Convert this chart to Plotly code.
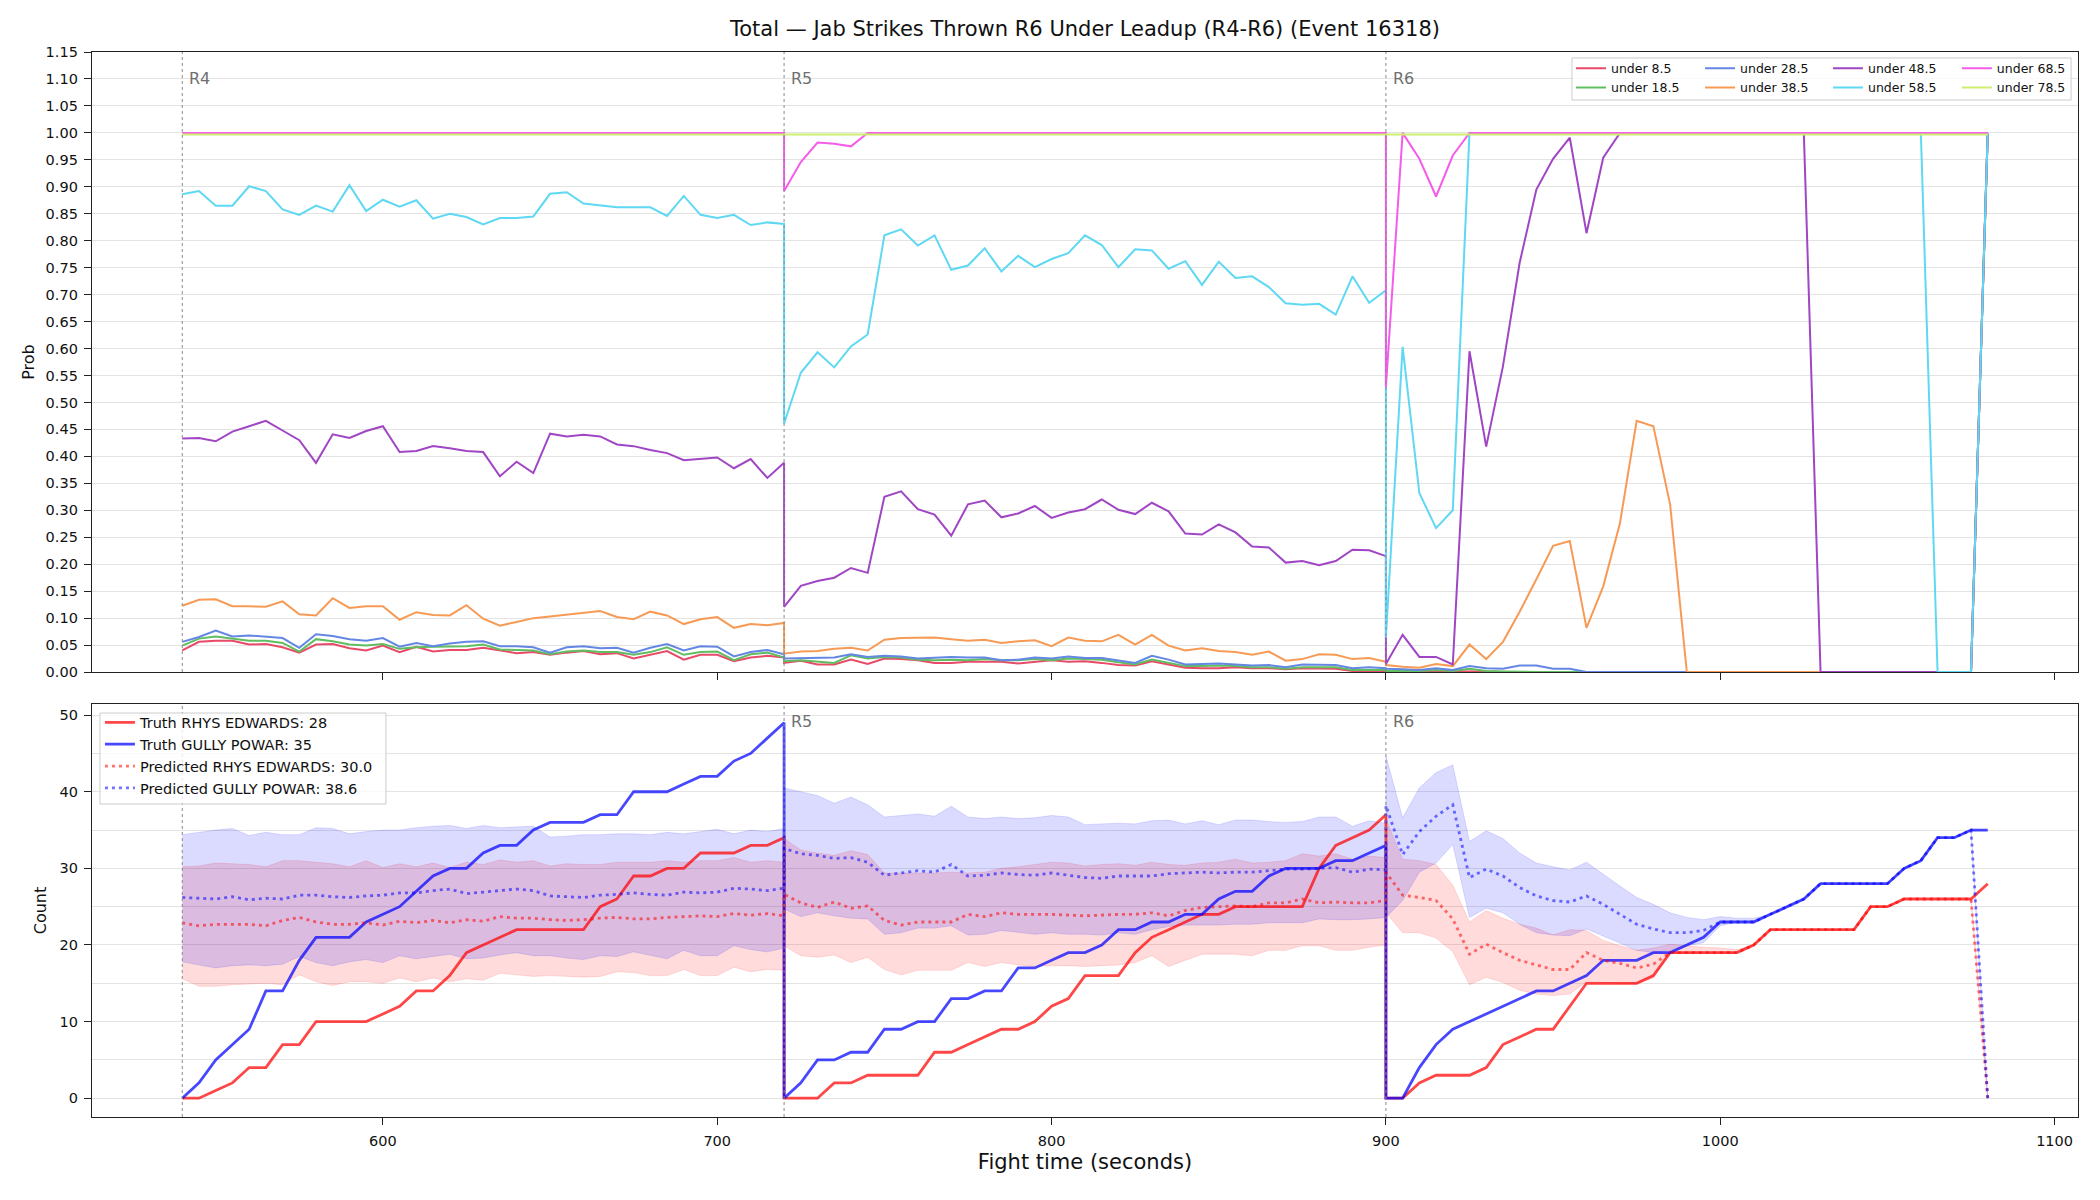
import plotly.graph_objects as go

FONT = "DejaVu Sans"

# ---------------- time grid (one sample every 5 s in each round) ----------------
T_R4 = list(range(540, 721, 5))
T_R5 = list(range(720, 901, 5))
T_R6 = list(range(900, 1081, 5))
ROUND_STARTS = [540, 720, 900]
ROUND_LABELS = ["R4", "R5", "R6"]
X_TICKS = [600, 700, 800, 900, 1000, 1100]
PROB_TICKS = [0.00, 0.05, 0.10, 0.15, 0.20, 0.25, 0.30, 0.35, 0.40, 0.45, 0.50, 0.55,
              0.60, 0.65, 0.70, 0.75, 0.80, 0.85, 0.90, 0.95, 1.00, 1.05, 1.10, 1.15]
COUNT_TICKS = [0, 10, 20, 30, 40, 50]

# ---------------- top panel: P(under line) ----------------
u085_r4 = [0.040, 0.056, 0.058, 0.058, 0.051, 0.052, 0.046, 0.036, 0.051, 0.052,
           0.044, 0.040, 0.049, 0.037, 0.047, 0.038, 0.041, 0.041, 0.045, 0.040,
           0.035, 0.037, 0.032, 0.036, 0.039, 0.033, 0.035, 0.025, 0.032, 0.039,
           0.023, 0.032, 0.032, 0.020, 0.027, 0.030, 0.027]
u085_r5 = [0.017, 0.021, 0.014, 0.014, 0.023, 0.015, 0.025, 0.024, 0.022, 0.017,
           0.017, 0.019, 0.019, 0.019, 0.016, 0.019, 0.022, 0.019, 0.020, 0.017,
           0.013, 0.012, 0.020, 0.014, 0.008, 0.007, 0.007, 0.009, 0.007, 0.007,
           0.005, 0.007, 0.007, 0.006, 0.002, 0.002, 0.002]
u085_r6 = [0.001, 0.001, 0.001, 0.002, 0.001, 0.002, 0.001, 0.0, 0.0, 0.0,
           0.0, 0.0, 0.0, 0.0, 0.0, 0.0, 0.0, 0.0, 0.0, 0.0,
           0.0, 0.0, 0.0, 0.0, 0.0, 0.0, 0.0, 0.0, 0.0, 0.0,
           0.0, 0.0, 0.0, 0.0, 0.0, 0.0, 1.0]

u185_r4 = [0.049, 0.062, 0.066, 0.062, 0.058, 0.058, 0.054, 0.038, 0.061, 0.057,
           0.051, 0.049, 0.052, 0.043, 0.046, 0.047, 0.047, 0.048, 0.051, 0.042,
           0.041, 0.040, 0.033, 0.038, 0.040, 0.037, 0.037, 0.032, 0.037, 0.046,
           0.032, 0.037, 0.038, 0.022, 0.033, 0.036, 0.027]
u185_r5 = [0.020, 0.022, 0.019, 0.017, 0.031, 0.025, 0.028, 0.027, 0.023, 0.022,
           0.023, 0.022, 0.024, 0.022, 0.022, 0.024, 0.022, 0.025, 0.024, 0.023,
           0.018, 0.014, 0.023, 0.017, 0.011, 0.011, 0.012, 0.011, 0.009, 0.009,
           0.006, 0.009, 0.009, 0.009, 0.004, 0.004, 0.004]
u185_r6 = [0.002, 0.002, 0.002, 0.004, 0.002, 0.006, 0.002, 0.001, 0.0, 0.0,
           0.0, 0.0, 0.0, 0.0, 0.0, 0.0, 0.0, 0.0, 0.0, 0.0,
           0.0, 0.0, 0.0, 0.0, 0.0, 0.0, 0.0, 0.0, 0.0, 0.0,
           0.0, 0.0, 0.0, 0.0, 0.0, 0.0, 1.0]

u285_r4 = [0.056, 0.065, 0.077, 0.066, 0.068, 0.066, 0.063, 0.045, 0.070, 0.067,
           0.061, 0.058, 0.063, 0.047, 0.054, 0.048, 0.053, 0.056, 0.057, 0.048,
           0.048, 0.046, 0.036, 0.046, 0.048, 0.044, 0.045, 0.036, 0.045, 0.052,
           0.040, 0.048, 0.047, 0.029, 0.037, 0.041, 0.033]
u285_r5 = [0.025, 0.026, 0.026, 0.027, 0.033, 0.028, 0.030, 0.029, 0.025, 0.026,
           0.028, 0.027, 0.027, 0.022, 0.023, 0.027, 0.025, 0.029, 0.026, 0.026,
           0.022, 0.017, 0.030, 0.023, 0.014, 0.015, 0.016, 0.014, 0.012, 0.013,
           0.009, 0.014, 0.014, 0.013, 0.007, 0.009, 0.007]
u285_r6 = [0.006, 0.005, 0.004, 0.007, 0.004, 0.011, 0.007, 0.006, 0.012, 0.012,
           0.006, 0.006, 0.0, 0.0, 0.0, 0.0, 0.0, 0.0, 0.0, 0.0,
           0.0, 0.0, 0.0, 0.0, 0.0, 0.0, 0.0, 0.0, 0.0, 0.0,
           0.0, 0.0, 0.0, 0.0, 0.0, 0.0, 1.0]

u385_r4 = [0.123, 0.134, 0.135, 0.122, 0.122, 0.121, 0.131, 0.107, 0.105, 0.137,
           0.119, 0.122, 0.122, 0.097, 0.111, 0.106, 0.105, 0.124, 0.099, 0.086,
           0.093, 0.100, 0.103, 0.106, 0.109, 0.113, 0.102, 0.098, 0.112, 0.105,
           0.089, 0.098, 0.102, 0.082, 0.089, 0.087, 0.091]
u385_r5 = [0.034, 0.038, 0.039, 0.043, 0.045, 0.040, 0.060, 0.063, 0.063, 0.064,
           0.061, 0.058, 0.060, 0.054, 0.057, 0.059, 0.048, 0.064, 0.058, 0.057,
           0.069, 0.051, 0.069, 0.049, 0.040, 0.044, 0.039, 0.037, 0.032, 0.038,
           0.021, 0.024, 0.033, 0.032, 0.024, 0.026, 0.019]
u385_r6 = [0.013, 0.010, 0.008, 0.015, 0.011, 0.051, 0.024, 0.056, 0.112, 0.172,
           0.234, 0.243, 0.082, 0.159, 0.276, 0.466, 0.456, 0.311, 0.0, 0.0,
           0.0, 0.0, 0.0, 0.0, 0.0, 0.0, 0.0, 0.0, 0.0, 0.0,
           0.0, 0.0, 0.0, 0.0, 0.0, 0.0, 1.0]

u485_r4 = [0.433, 0.434, 0.428, 0.446, 0.456, 0.466, 0.448, 0.430, 0.388, 0.441,
           0.434, 0.447, 0.456, 0.408, 0.410, 0.419, 0.415, 0.410, 0.408, 0.363,
           0.390, 0.369, 0.442, 0.437, 0.440, 0.437, 0.422, 0.419, 0.412, 0.406,
           0.393, 0.395, 0.398, 0.378, 0.395, 0.360, 0.388]
u485_r5 = [0.121, 0.160, 0.169, 0.175, 0.193, 0.184, 0.325, 0.335, 0.302, 0.292,
           0.253, 0.311, 0.318, 0.287, 0.294, 0.308, 0.286, 0.296, 0.302, 0.320,
           0.301, 0.293, 0.314, 0.298, 0.257, 0.255, 0.274, 0.259, 0.233, 0.231,
           0.203, 0.206, 0.198, 0.206, 0.227, 0.226, 0.215]
u485_r6 = [0.015, 0.069, 0.028, 0.028, 0.014, 0.595, 0.418, 0.567, 0.759, 0.895,
           0.952, 0.991, 0.814, 0.954, 1.0, 1.0, 1.0, 1.0, 1.0, 1.0,
           1.0, 1.0, 1.0, 1.0, 1.0, 1.0, 0.0, 0.0, 0.0, 0.0,
           0.0, 0.0, 0.0, 0.0, 0.0, 0.0, 1.0]

u585_r4 = [0.886, 0.892, 0.865, 0.865, 0.901, 0.892, 0.858, 0.848, 0.865, 0.854,
           0.903, 0.855, 0.876, 0.863, 0.875, 0.841, 0.850, 0.844, 0.830, 0.842,
           0.842, 0.845, 0.887, 0.890, 0.869, 0.866, 0.862, 0.862, 0.862, 0.846,
           0.883, 0.848, 0.842, 0.848, 0.829, 0.834, 0.831]
u585_r5 = [0.461, 0.555, 0.593, 0.565, 0.604, 0.626, 0.810, 0.821, 0.791, 0.810,
           0.746, 0.754, 0.786, 0.743, 0.772, 0.751, 0.766, 0.777, 0.810, 0.792,
           0.751, 0.784, 0.782, 0.748, 0.762, 0.718, 0.761, 0.731, 0.734, 0.714,
           0.684, 0.681, 0.683, 0.663, 0.734, 0.685, 0.708]
u585_r6 = [0.064, 0.603, 0.332, 0.267, 0.300, 1.0, 1.0, 1.0, 1.0, 1.0,
           1.0, 1.0, 1.0, 1.0, 1.0, 1.0, 1.0, 1.0, 1.0, 1.0,
           1.0, 1.0, 1.0, 1.0, 1.0, 1.0, 1.0, 1.0, 1.0, 1.0,
           1.0, 1.0, 1.0, 0.0, 0.0, 0.0, 1.0]

u685_r4 = [1.0, 1.0, 1.0, 1.0, 1.0, 1.0, 1.0, 1.0, 1.0, 1.0,
           1.0, 1.0, 1.0, 1.0, 1.0, 1.0, 1.0, 1.0, 1.0, 1.0,
           1.0, 1.0, 1.0, 1.0, 1.0, 1.0, 1.0, 1.0, 1.0, 1.0,
           1.0, 1.0, 1.0, 1.0, 1.0, 1.0, 1.0]
u685_r5 = [0.892, 0.946, 0.982, 0.980, 0.975, 1.0, 1.0, 1.0, 1.0, 1.0,
           1.0, 1.0, 1.0, 1.0, 1.0, 1.0, 1.0, 1.0, 1.0, 1.0,
           1.0, 1.0, 1.0, 1.0, 1.0, 1.0, 1.0, 1.0, 1.0, 1.0,
           1.0, 1.0, 1.0, 1.0, 1.0, 1.0, 1.0]
u685_r6 = [0.529, 1.0, 0.952, 0.882, 0.958, 1.0, 1.0, 1.0, 1.0, 1.0,
           1.0, 1.0, 1.0, 1.0, 1.0, 1.0, 1.0, 1.0, 1.0, 1.0,
           1.0, 1.0, 1.0, 1.0, 1.0, 1.0, 1.0, 1.0, 1.0, 1.0,
           1.0, 1.0, 1.0, 1.0, 1.0, 1.0, 1.0]

u785_r4 = [0.997, 0.997, 0.997, 0.997, 0.997, 0.997, 0.997, 0.997, 0.997, 0.997,
           0.997, 0.997, 0.997, 0.997, 0.997, 0.997, 0.997, 0.997, 0.997, 0.997,
           0.997, 0.997, 0.997, 0.997, 0.997, 0.997, 0.997, 0.997, 0.997, 0.997,
           0.997, 0.997, 0.997, 0.997, 0.997, 0.997, 0.997]
u785_r5 = list(u785_r4)
u785_r6 = list(u785_r4)

# ---------------- bottom panel: counts ----------------
truth_red_r4 = [0, 0, 1, 2, 4, 4, 7, 7, 10, 10, 10, 10, 11, 12, 14, 14, 16, 19, 20, 21,
                22, 22, 22, 22, 22, 25, 26, 29, 29, 30, 30, 32, 32, 32, 33, 33, 34]
truth_red_r5 = [0, 0, 0, 2, 2, 3, 3, 3, 3, 6, 6, 7, 8, 9, 9, 10, 12, 13, 16, 16,
                16, 19, 21, 22, 23, 24, 24, 25, 25, 25, 25, 25, 30, 33, 34, 35, 37]
truth_red_r6 = [0, 0, 2, 3, 3, 3, 4, 7, 8, 9, 9, 12, 15, 15, 15, 15, 16, 19, 19, 19,
                19, 19, 20, 22, 22, 22, 22, 22, 22, 25, 25, 26, 26, 26, 26, 26, 28]

truth_blue_r4 = [0, 2, 5, 7, 9, 14, 14, 18, 21, 21, 21, 23, 24, 25, 27, 29, 30, 30, 32, 33,
                 33, 35, 36, 36, 36, 37, 37, 40, 40, 40, 41, 42, 42, 44, 45, 47, 49]
truth_blue_r5 = [0, 2, 5, 5, 6, 6, 9, 9, 10, 10, 13, 13, 14, 14, 17, 17, 18, 19, 19, 20,
                 22, 22, 23, 23, 24, 24, 26, 27, 27, 29, 30, 30, 30, 31, 31, 32, 33]
truth_blue_r6 = [0, 0, 4, 7, 9, 10, 11, 12, 13, 14, 14, 15, 16, 18, 18, 18, 19, 19, 20, 21,
                 23, 23, 23, 24, 25, 26, 28, 28, 28, 28, 28, 30, 31, 34, 34, 35, 35]

pred_red_r4 = [22.9, 22.5, 22.7, 22.7, 22.7, 22.5, 23.2, 23.6, 23.0, 22.7,
               22.7, 22.9, 22.6, 23.1, 22.9, 23.2, 22.9, 23.3, 23.1, 23.7,
               23.5, 23.5, 23.3, 23.2, 23.3, 23.5, 23.6, 23.4, 23.4, 23.6,
               23.7, 23.8, 23.7, 24.1, 23.9, 24.1, 23.8]
pred_red_r5 = [26.6, 25.5, 24.9, 25.6, 24.8, 25.1, 23.2, 22.6, 23.0, 23.0,
               23.0, 24.0, 23.7, 24.2, 24.0, 24.0, 24.0, 23.9, 23.8, 23.9,
               24.0, 24.0, 24.2, 23.8, 24.5, 24.9, 25.0, 25.1, 25.0, 25.5,
               25.5, 26.0, 25.5, 25.6, 25.5, 25.5, 25.8]
pred_red_r6 = [29.5, 26.5, 26.2, 25.8, 23.4, 18.8, 20.1, 19.0, 18.0, 17.4,
               16.8, 16.8, 19.0, 18.0, 17.6, 17.0, 17.5, 19.0, 19.0, 19.0,
               19.0, 19.0, 20.0, 22.0, 22.0, 22.0, 22.0, 22.0, 22.0, 25.0,
               25.0, 26.0, 26.0, 26.0, 26.0, 26.0, 0.0]

pred_blue_r4 = [26.2, 26.1, 26.0, 26.3, 25.9, 26.1, 26.0, 26.5, 26.5, 26.3,
                26.2, 26.4, 26.5, 26.8, 26.8, 27.1, 27.3, 26.7, 26.9, 27.1,
                27.3, 27.1, 26.4, 26.3, 26.2, 26.5, 26.6, 26.8, 26.6, 26.5,
                26.9, 26.8, 26.9, 27.4, 27.3, 27.1, 27.4]
pred_blue_r5 = [32.6, 31.9, 31.7, 31.3, 31.4, 30.8, 29.1, 29.4, 29.7, 29.5,
                30.5, 29.0, 29.1, 29.4, 29.2, 29.1, 29.4, 29.1, 28.8, 28.7,
                29.0, 29.0, 29.0, 29.3, 29.4, 29.5, 29.4, 29.5, 29.5, 29.7,
                29.9, 29.9, 30.0, 30.1, 29.5, 29.9, 29.8]
pred_blue_r6 = [38.2, 31.8, 34.8, 36.8, 38.3, 28.8, 29.9, 29.0, 27.5, 26.4,
                25.8, 25.6, 26.4, 25.3, 24.0, 22.7, 22.1, 21.6, 21.6, 21.9,
                23.0, 23.0, 23.0, 24.0, 25.0, 26.0, 28.0, 28.0, 28.0, 28.0,
                28.0, 30.0, 31.0, 34.0, 34.0, 35.0, 0.0]

red_hi_r4 = [30.2, 30.3, 30.7, 30.6, 30.5, 30.2, 31.0, 31.0, 30.8, 30.6,
             30.2, 31.0, 30.1, 30.6, 30.2, 30.7, 30.1, 30.8, 30.5, 31.1,
             30.8, 31.0, 30.3, 30.6, 30.5, 30.5, 30.8, 30.8, 30.8, 31.0,
             30.8, 31.0, 31.0, 31.4, 30.8, 31.0, 30.8]
red_lo_r4 = [15.6, 14.6, 14.6, 14.8, 14.9, 15.0, 14.8, 16.1, 15.2, 14.7,
             15.2, 15.2, 15.0, 15.7, 15.2, 15.7, 15.2, 15.6, 15.4, 16.3,
             16.1, 15.9, 16.0, 15.9, 15.8, 15.9, 16.5, 16.4, 16.0, 16.0,
             16.8, 16.0, 16.0, 17.1, 16.5, 16.8, 16.7]
red_hi_r5 = [33.9, 32.4, 32.0, 31.7, 32.3, 31.8, 29.4, 29.4, 29.4, 29.4,
             29.5, 29.4, 29.5, 30.0, 30.2, 30.5, 30.8, 30.7, 30.3, 30.5,
             30.6, 30.4, 30.8, 30.5, 30.4, 30.7, 30.8, 31.2, 30.7, 30.8,
             31.0, 31.9, 31.6, 31.9, 31.2, 31.6, 31.4]
red_lo_r5 = [19.9, 18.6, 18.4, 18.7, 17.7, 18.4, 16.8, 16.1, 16.7, 16.7,
             16.7, 17.7, 17.2, 17.7, 17.4, 17.2, 17.3, 17.3, 17.2, 17.3,
             17.4, 17.7, 18.6, 17.2, 18.0, 18.8, 18.8, 18.8, 18.6, 19.3,
             19.3, 19.9, 19.9, 19.3, 19.3, 19.7, 20.0]
red_hi_r6 = [36.4, 31.2, 31.0, 30.5, 27.8, 23.0, 24.5, 23.5, 22.7, 22.2,
             21.3, 22.0, 21.9, 20.6, 19.9, 19.3, 19.6, 20.1, 19.9, 19.7,
             19.6, 19.4, 20.0, 22.0, 22.0, 22.0, 22.0, 22.0, 22.0, 25.0,
             25.0, 26.0, 26.0, 26.0, 26.0, 26.0, 0.0]
red_lo_r6 = [24.2, 21.6, 21.6, 20.9, 19.1, 14.8, 15.8, 15.1, 14.1, 13.6,
             13.4, 13.6, 15.2, 15.1, 15.0, 15.0, 15.7, 19.0, 19.0, 19.0,
             19.0, 19.0, 20.0, 22.0, 22.0, 22.0, 22.0, 22.0, 22.0, 25.0,
             25.0, 26.0, 26.0, 26.0, 26.0, 26.0, 0.0]

blue_hi_r4 = [34.4, 34.7, 35.0, 35.2, 34.3, 34.7, 34.4, 34.4, 35.3, 35.2,
              34.5, 34.8, 35.0, 35.0, 35.3, 35.5, 35.6, 35.2, 35.6, 35.3,
              35.4, 35.5, 34.1, 34.2, 34.4, 34.4, 34.5, 34.5, 34.4, 34.7,
              34.5, 34.8, 35.1, 34.5, 35.0, 34.8, 35.2]
blue_lo_r4 = [17.8, 17.4, 17.0, 17.3, 17.4, 17.3, 17.5, 18.5, 17.7, 17.3,
              17.8, 18.1, 17.7, 18.6, 18.2, 18.5, 18.8, 18.2, 18.3, 18.7,
              19.0, 18.6, 18.6, 18.3, 18.1, 18.6, 18.5, 19.1, 18.6, 18.2,
              19.3, 18.6, 18.6, 19.9, 19.4, 19.1, 19.6]
blue_hi_r5 = [40.5, 40.0, 39.5, 38.5, 39.3, 38.3, 36.7, 36.9, 37.1, 36.8,
              38.1, 36.7, 36.5, 36.7, 36.5, 36.6, 36.9, 36.7, 35.7, 35.8,
              35.9, 35.8, 36.2, 36.3, 35.8, 36.2, 35.7, 36.3, 36.3, 36.1,
              36.0, 36.1, 36.7, 36.7, 35.5, 36.2, 35.9]
blue_lo_r5 = [24.7, 23.7, 24.2, 23.8, 23.5, 23.4, 21.4, 21.6, 22.2, 22.2,
              22.5, 21.3, 21.4, 21.9, 21.6, 21.4, 21.6, 21.4, 21.4, 21.3,
              21.6, 21.4, 22.0, 22.4, 22.6, 22.6, 22.6, 22.7, 22.7, 22.9,
              22.9, 22.9, 23.4, 23.3, 23.3, 23.4, 23.6]
blue_hi_r6 = [44.7, 36.6, 40.5, 42.5, 43.5, 33.5, 34.9, 33.9, 32.0, 30.7,
              30.2, 29.8, 30.8, 29.2, 27.7, 26.2, 25.3, 24.2, 23.6, 23.3,
              23.7, 23.5, 23.5, 24.0, 25.0, 26.0, 28.0, 28.0, 28.0, 28.0,
              28.0, 30.0, 31.0, 34.0, 34.0, 35.0, 0.0]
blue_lo_r6 = [23.6, 25.8, 29.5, 30.7, 33.1, 23.6, 24.8, 24.2, 22.7, 21.6,
              21.3, 21.2, 22.1, 21.2, 20.3, 19.3, 19.0, 19.3, 19.9, 20.3,
              22.5, 23.0, 23.0, 24.0, 25.0, 26.0, 28.0, 28.0, 28.0, 28.0,
              28.0, 30.0, 31.0, 34.0, 34.0, 35.0, 0.0]

FIGHTER_RED = "RHYS EDWARDS"
FIGHTER_BLUE = "GULLY POWAR"
FINAL_TRUTH_RED = 28
FINAL_TRUTH_BLUE = 35
FINAL_PRED_RED = 30.0
FINAL_PRED_BLUE = 38.6

TITLE = "Total \u2014 Jab Strikes Thrown R6 Under Leadup (R4-R6) (Event 16318)"

# ---------------- assemble ----------------
X = T_R4 + T_R5 + T_R6

top_series = [
    ("under 8.5", u085_r4 + u085_r5 + u085_r6, "#e84a68", "legend"),
    ("under 18.5", u185_r4 + u185_r5 + u185_r6, "#60bd60", "legend"),
    ("under 28.5", u285_r4 + u285_r5 + u285_r6, "#6487e3", "legend2"),
    ("under 38.5", u385_r4 + u385_r5 + u385_r6, "#f79a55", "legend2"),
    ("under 48.5", u485_r4 + u485_r5 + u485_r6, "#a046c4", "legend3"),
    ("under 58.5", u585_r4 + u585_r5 + u585_r6, "#5ed8f3", "legend3"),
    ("under 68.5", u685_r4 + u685_r5 + u685_r6, "#f55ce9", "legend4"),
    ("under 78.5", u785_r4 + u785_r5 + u785_r6, "#cdee6e", "legend4"),
]

fig = go.Figure()

for name, vals, color, lg in top_series:
    fig.add_trace(go.Scatter(
        x=X, y=vals, mode="lines", name=name,
        line=dict(color=color, width=2),
        xaxis="x", yaxis="y", legend=lg,
    ))

RED_FILL = "rgba(255,0,0,0.14)"
BLUE_FILL = "rgba(0,0,255,0.14)"
RED_EDGE = "rgba(255,0,0,0.12)"
BLUE_EDGE = "rgba(0,0,255,0.12)"

band_specs = [
    (red_lo_r4 + red_lo_r5 + red_lo_r6, red_hi_r4 + red_hi_r5 + red_hi_r6, RED_FILL, RED_EDGE),
    (blue_lo_r4 + blue_lo_r5 + blue_lo_r6, blue_hi_r4 + blue_hi_r5 + blue_hi_r6, BLUE_FILL, BLUE_EDGE),
]
for lo, hi, fillc, edge in band_specs:
    fig.add_trace(go.Scatter(x=X, y=lo, mode="lines", line=dict(color=edge, width=1),
                             showlegend=False, xaxis="x2", yaxis="y2", legend="legend5",
                             hoverinfo="skip"))
    fig.add_trace(go.Scatter(x=X, y=hi, mode="lines", line=dict(color=edge, width=1),
                             fill="tonexty", fillcolor=fillc, showlegend=False,
                             xaxis="x2", yaxis="y2", legend="legend5", hoverinfo="skip"))

count_series = [
    (f"Truth {FIGHTER_RED}: {FINAL_TRUTH_RED}", truth_red_r4 + truth_red_r5 + truth_red_r6,
     "rgba(255,0,0,0.72)", "solid", 2.8),
    (f"Truth {FIGHTER_BLUE}: {FINAL_TRUTH_BLUE}", truth_blue_r4 + truth_blue_r5 + truth_blue_r6,
     "rgba(0,0,255,0.72)", "solid", 2.8),
    (f"Predicted {FIGHTER_RED}: {FINAL_PRED_RED:.1f}", pred_red_r4 + pred_red_r5 + pred_red_r6,
     "rgba(255,0,0,0.55)", "3px,4px", 2.8),
    (f"Predicted {FIGHTER_BLUE}: {FINAL_PRED_BLUE:.1f}", pred_blue_r4 + pred_blue_r5 + pred_blue_r6,
     "rgba(0,0,255,0.55)", "3px,4px", 2.8),
]
for name, vals, color, dash, w in count_series:
    fig.add_trace(go.Scatter(x=X, y=vals, mode="lines", name=name,
                             line=dict(color=color, width=w, dash=dash),
                             xaxis="x2", yaxis="y2", legend="legend5"))

# ---------------- axes ----------------
xmin, xmax = min(X), max(X)
xpad = 0.05 * (xmax - xmin)
xr = [xmin - xpad, xmax + xpad]
cmax = max(truth_blue_r4 + truth_blue_r5 + truth_blue_r6 + truth_red_r4 + truth_red_r5 + truth_red_r6
           + blue_hi_r4 + blue_hi_r5 + blue_hi_r6)
cmin = 0
cpad = 0.05 * (cmax - cmin)

AX_LINE = "#222222"
GRID = "#e3e3e3"
tickfont = dict(family=FONT, size=14.5, color="#111111")

common_x = dict(range=xr, tickvals=X_TICKS, showgrid=False, zeroline=False,
                showline=True, linecolor=AX_LINE, linewidth=1.4, mirror=True,
                ticks="outside", ticklen=7, tickwidth=1.2, tickcolor=AX_LINE,
                tickfont=tickfont)

fig.update_layout(
    width=2100, height=1200,
    margin=dict(l=92, r=22, t=52, b=83),
    paper_bgcolor="white", plot_bgcolor="white",
    font=dict(family=FONT, color="#111111"),
    title=dict(text=TITLE, x=0.5, xref="paper", xanchor="center",
               y=1 - 29 / 1200, yref="container", yanchor="middle",
               font=dict(family=FONT, size=21, color="#111111")),
    xaxis=dict(domain=[0, 1], anchor="y", showticklabels=False, matches="x2", **common_x),
    yaxis=dict(domain=[0.4178, 1], anchor="x", range=[0, 1.15], tickvals=PROB_TICKS,
               tickformat=".2f", showgrid=True, gridcolor=GRID, gridwidth=1,
               zeroline=False, showline=True, linecolor=AX_LINE, linewidth=1.4, mirror=True,
               ticks="outside", ticklen=7, tickwidth=1.2, tickcolor=AX_LINE,
               ticklabelstandoff=3, tickfont=tickfont,
               title=dict(text="Prob", font=dict(family=FONT, size=16, color="#111111"),
                          standoff=6)),
    xaxis2=dict(domain=[0, 1], anchor="y2", ticklabelstandoff=3,
                title=dict(text="Fight time (seconds)",
                           font=dict(family=FONT, size=21, color="#111111"), standoff=6),
                **common_x),
    yaxis2=dict(domain=[0, 0.3878], anchor="x2", range=[cmin - cpad, cmax + cpad],
                tickvals=COUNT_TICKS, showgrid=True, gridcolor=GRID, gridwidth=1,
                minor=dict(dtick=5, tick0=0, showgrid=True, gridcolor=GRID, gridwidth=1, ticks=""),
                zeroline=False, showline=True, linecolor=AX_LINE, linewidth=1.4, mirror=True,
                ticks="outside", ticklen=7, tickwidth=1.2, tickcolor=AX_LINE,
                ticklabelstandoff=3, tickfont=tickfont,
                title=dict(text="Count", font=dict(family=FONT, size=16, color="#111111"),
                           standoff=8)),
)

# ---------------- legends ----------------
leg_font = dict(family=FONT, size=12.5, color="#111111")
leg_common = dict(bgcolor="rgba(0,0,0,0)", borderwidth=0, font=leg_font,
                  xanchor="left", yanchor="top", orientation="v", traceorder="normal",
                  tracegroupgap=0, itemwidth=30, xref="paper", yref="paper")
top_leg_y = 0.9985
fig.update_layout(
    legend=dict(x=0.7447, y=top_leg_y, **leg_common),
    legend2=dict(x=0.8097, y=top_leg_y, **leg_common),
    legend3=dict(x=0.8741, y=top_leg_y, **leg_common),
    legend4=dict(x=0.9390, y=top_leg_y, **leg_common),
    legend5=dict(x=0.004, y=0.3855, xanchor="left", yanchor="top", traceorder="normal",
                 bgcolor="rgba(0,0,0,0)", borderwidth=0,
                 font=dict(family=FONT, size=14.5, color="#111111"),
                 tracegroupgap=0, itemwidth=30),
)

shapes = [
    dict(type="rect", xref="paper", yref="paper", x0=0.7452, x1=0.9965, y0=0.9549, y1=0.9944,
         fillcolor="rgba(255,255,255,0.8)", line=dict(color="#cccccc", width=1), layer="above"),
    dict(type="rect", xref="paper", yref="paper", x0=0.004, x1=0.148, y0=0.2939, y1=0.3793,
         fillcolor="rgba(255,255,255,0.8)", line=dict(color="#cccccc", width=1), layer="above"),
]
annotations = []
for s, lab in zip(ROUND_STARTS, ROUND_LABELS):
    for xa, ya, show in (("x", "y domain", True), ("x2", "y2 domain", lab != "R4")):
        shapes.insert(0, dict(type="line", xref=xa, yref=ya, x0=s, x1=s, y0=0, y1=1,
                              line=dict(color="#888888", width=1, dash="dot"), layer="above"))
        if show:
            annotations.append(dict(x=s, xref=xa, y=0.957, yref=ya, text=lab, showarrow=False,
                                    xanchor="left", yanchor="middle", xshift=5,
                                    font=dict(family=FONT, size=16, color="#707070")))
fig.update_layout(shapes=shapes, annotations=annotations)

fig.write_html("out.html")
